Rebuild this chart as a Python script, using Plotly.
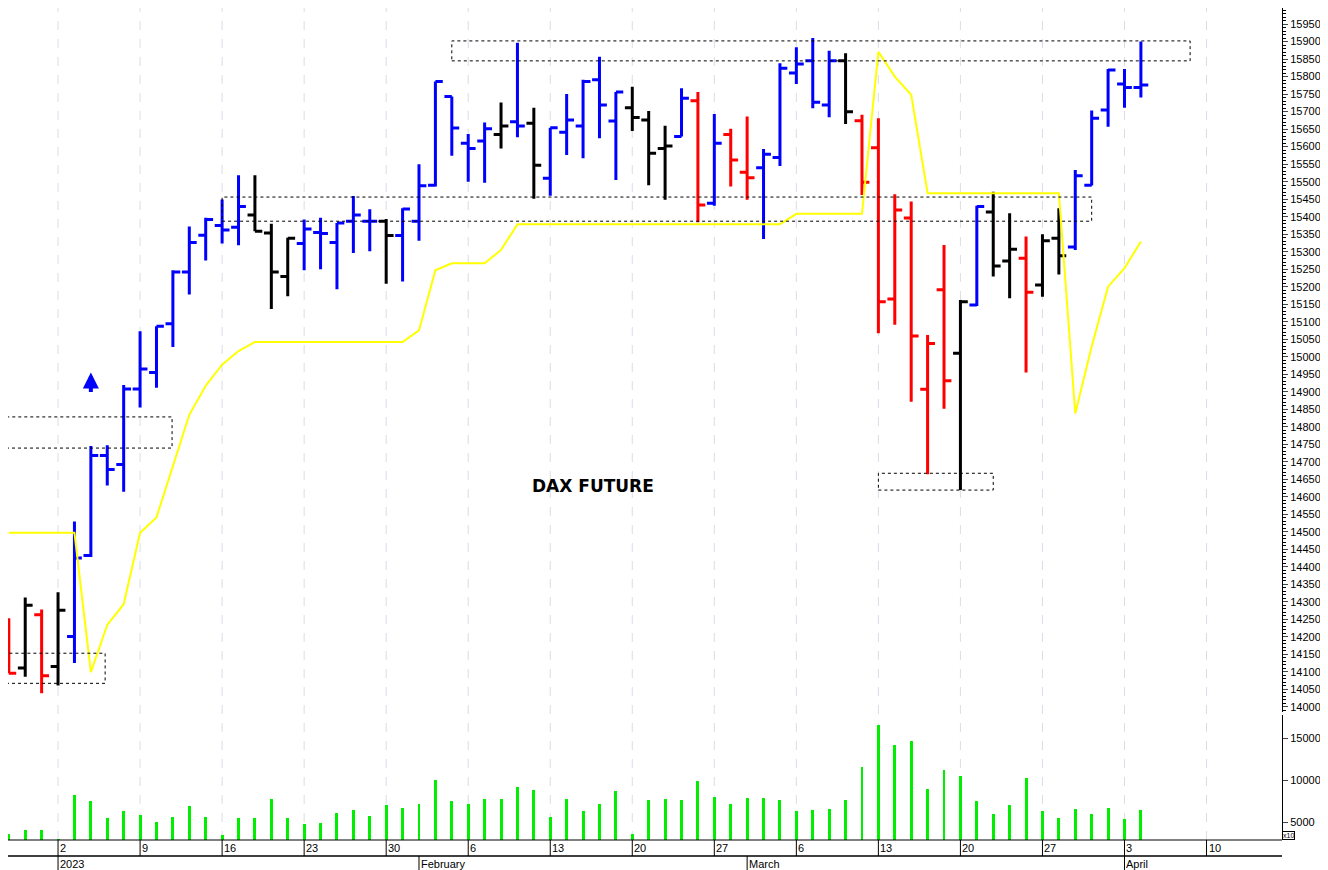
import plotly.graph_objects as go

# trading-day index: 0 = Dec 28 2022, 3 = Jan 2 2023, 69 = Apr 4 2023
opens = [14206, 14111, 14263, 14115, 14201, 14432, 14718, 14692, 14908, 14955,
         15094, 15242, 15347, 15375, 15370, 15405, 15353, 15229, 15323, 15355,
         15326, 15387, 15387, 15387, 15346, 15387, 15490, 15743, 15610, 15616,
         15635, 15671, 15667, 15510, 15641, 15659, 15791, 15673, 15711, 15676,
         15595, 15629, 15731, 15438, 15635, 15527, 15540, 15569, 15810, 15845,
         15719, 15845, 15674, 15597, 15165, 15396, 14907, 15191, 15010, 15148,
         15413, 15273, 15281, 15205, 15338, 15313, 15490, 15705, 15779, 15769]
highs = [14253, 14312, 14278, 14327, 14529, 14745, 14747, 14919, 15073, 15087,
         15247, 15372, 15397, 15449, 15518, 15518, 15380, 15340, 15392, 15397,
         15382, 15459, 15421, 15393, 15424, 15550, 15786, 15743, 15636, 15669,
         15726, 15897, 15711, 15654, 15750, 15791, 15857, 15756, 15771, 15702,
         15660, 15767, 15756, 15693, 15651, 15686, 15593, 15838, 15884, 15910,
         15874, 15867, 15691, 15681, 15464, 15443, 15062, 15319, 15162, 15431,
         15471, 15410, 15343, 15350, 15424, 15533, 15703, 15822, 15822, 15900]
lows = [14096, 14086, 14039, 14061, 14125, 14428, 14632, 14614, 14855, 14911,
        15028, 15178, 15275, 15323, 15318, 15358, 15136, 15173, 15247, 15250,
        15193, 15296, 15301, 15208, 15215, 15331, 15486, 15574, 15500, 15497,
        15595, 15627, 15451, 15460, 15576, 15567, 15624, 15505, 15645, 15490,
        15448, 15629, 15384, 15431, 15486, 15448, 15336, 15545, 15779, 15710,
        15684, 15665, 15462, 15067, 15091, 14871, 14664, 14851, 14619, 15145,
        15229, 15167, 14955, 15171, 15235, 15305, 15489, 15657, 15711, 15740]
closes = [14096, 14290, 14089, 14276, 14425, 14718, 14678, 14908, 14965, 15087,
          15242, 15326, 15392, 15362, 15429, 15358, 15242, 15338, 15365, 15352,
          15382, 15405, 15387, 15346, 15422, 15488, 15786, 15653, 15595, 15651,
          15659, 15659, 15547, 15654, 15676, 15786, 15719, 15756, 15683, 15581,
          15602, 15738, 15433, 15610, 15562, 15511, 15578, 15824, 15836, 15727,
          15845, 15700, 15498, 15157, 15419, 15059, 15038, 14931, 15157, 15429,
          15259, 15307, 15184, 15331, 15288, 15517, 15681, 15819, 15769, 15776]
bar_colors = (["red", "black", "red", "black"] + ["blue"] * 11 + ["black"] * 3
              + ["blue"] * 5 + ["black"] + ["blue"] * 6 + ["black", "blue", "black"]
              + ["blue"] * 5 + ["black"] * 3 + ["blue", "red", "blue", "red", "red"]
              + ["blue"] * 5 + ["black"] + ["red"] * 6 + ["black", "blue", "black", "black",
              "red", "black", "black"] + ["blue"] * 5)
stop_line = ([14497] * 5 + [14099, 14234, 14293, 14497, 14541, 14686, 14834, 14917,
             14977, 15016] + [15042] * 10 + [15075, 15247, 15267, 15267, 15267, 15305]
             + [15378] * 17 + [15408] * 5 + [15871, 15800, 15748] + [15467] * 9
             + [14838, 15029, 15200, 15253, 15329])
volumes = [3610, 4008, 4008, 2936, 8176, 7461, 5476, 6270, 5794, 4960,
           5556, 6906, 5556, 3412, 5476, 5476, 7700, 5476, 4722, 4881,
           6112, 6390, 5675, 7064, 6667, 7183, 9962, 7461, 7183, 7739,
           7739, 9168, 8771, 5595, 7739, 6270, 7183, 8692, 3610, 7660,
           7700, 7580, 9843, 7977, 7104, 7858, 7858, 7660, 6270, 6390,
           6588, 7580, 11551, 16513, 14131, 14607, 8890, 11153, 10439, 7461,
           5913, 6985, 10240, 6310, 5476, 6509, 5992, 6707, 5357, 6390]

week_pos = [-1, 3, 8, 13, 18, 23, 28, 33, 38, 43, 48, 53, 58, 63, 68, 73]
week_labels = ["27", "2", "9", "16", "23", "30", "6", "13", "20", "27",
               "6", "13", "20", "27", "3", "10"]
month_pos = [3, 25, 45, 68]
month_labels = ["2023", "February", "March", "April"]

# dashed boxes: (x0, x1, y0, y1)
boxes = [(-2, 9.95, 14739, 14828), (-2, 5.87, 14067, 14153),
         (13.0, 66.0, 15387, 15456), (27.0, 72.0, 15845, 15902),
         (53.0, 60.0, 14619, 14667)]

idx = list(range(len(opens)))
fig = go.Figure()

for col in ["blue", "black", "red"]:
    sel = [i for i in idx if bar_colors[i] == col]
    fig.add_trace(go.Ohlc(
        x=sel, open=[opens[i] for i in sel], high=[highs[i] for i in sel],
        low=[lows[i] for i in sel], close=[closes[i] for i in sel],
        increasing=dict(line=dict(color=col, width=3)),
        decreasing=dict(line=dict(color=col, width=3)),
        tickwidth=0.45, showlegend=False))

fig.add_trace(go.Scatter(x=idx, y=stop_line, mode="lines",
                         line=dict(color="#ffff00", width=2), showlegend=False))
fig.add_trace(go.Bar(x=idx, y=volumes, yaxis="y2", width=0.18,
                     marker=dict(color="#00ee00", line=dict(width=0)),
                     base=0, showlegend=False))

for x0, x1, y0, y1 in boxes:
    fig.add_shape(type="rect", x0=x0, x1=x1, y0=y0, y1=y1, xref="x", yref="y",
                  line=dict(color="black", width=1, dash="dot"))

# weekly grid lines and labels (left aligned after the line)
row2 = -16 / 832
for p, lab in zip(week_pos, week_labels):
    fig.add_shape(type="line", x0=p, x1=p, y0=0, y1=1, xref="x", yref="paper",
                  line=dict(color="#dcdce8", width=1, dash="dash"), layer="below")
    fig.add_shape(type="line", x0=p, x1=p, y0=0, y1=row2, xref="x", yref="paper",
                  line=dict(color="black", width=1))
    fig.add_annotation(x=p, y=0, xref="x", yref="paper", text=lab, showarrow=False,
                       xanchor="left", yanchor="top", font=dict(size=11, color="black"))
for p, lab in zip(month_pos, month_labels):
    fig.add_shape(type="line", x0=p, x1=p, y0=row2, y1=-0.04, xref="x", yref="paper",
                  line=dict(color="black", width=1))
    fig.add_annotation(x=p, y=row2, xref="x", yref="paper", text=lab, showarrow=False,
                       xanchor="left", yanchor="top", font=dict(size=11, color="black"))
fig.add_shape(type="line", x0=0, x1=1, y0=row2, y1=row2, xref="paper", yref="paper",
              line=dict(color="black", width=1.5))
fig.add_shape(type="line", x0=0, x1=1, y0=0, y1=0, xref="paper", yref="paper",
              line=dict(color="black", width=1))

fig.add_annotation(x=35.6, y=14630, text="<b>DAX FUTURE</b>", showarrow=False,
                   font=dict(size=17, color="black", family="DejaVu Sans"))
fig.add_annotation(x=5, y=14955, ax=5, ay=14895, xref="x", yref="y", axref="x", ayref="y",
                   showarrow=True, arrowhead=2, arrowsize=0.8, arrowwidth=4,
                   arrowcolor="blue", text="")
fig.add_annotation(x=1.0, y=0.0, xref="paper", yref="paper", text="x10",
                   showarrow=False, xanchor="left", yanchor="bottom",
                   font=dict(size=7, color="black"),
                   bordercolor="black", borderwidth=1, borderpad=0)

# the page body adds an 8px margin, so the figure is sized to fit the window
fig.update_layout(
    width=1320, height=862,
    margin=dict(l=0, r=46, t=0, b=30),
    plot_bgcolor="white", paper_bgcolor="white",
    font=dict(family="Liberation Sans, Arial", size=11, color="black"),
    bargap=0,
    xaxis=dict(range=[-0.05, 77.6], showticklabels=False, showgrid=False,
               zeroline=False, automargin=False, rangeslider=dict(visible=False)),
    yaxis=dict(domain=[0.1538, 1], range=[13985, 15996], side="right",
               tickvals=list(range(14000, 16000, 50)), tickformat="d",
               showgrid=False, automargin=False,
               ticks="outside", ticklen=5, showline=True, linecolor="black",
               minor=dict(dtick=10, ticks="outside", ticklen=3, tickcolor="black"),
               zeroline=False),
    yaxis2=dict(domain=[0, 0.1502], range=[2860, 17738], side="right",
                tickvals=[5000, 10000, 15000], tickformat="d", showgrid=False,
                automargin=False, ticks="outside",
                ticklen=5, showline=True, linecolor="black", zeroline=False),
)

fig.write_html("out.html")
